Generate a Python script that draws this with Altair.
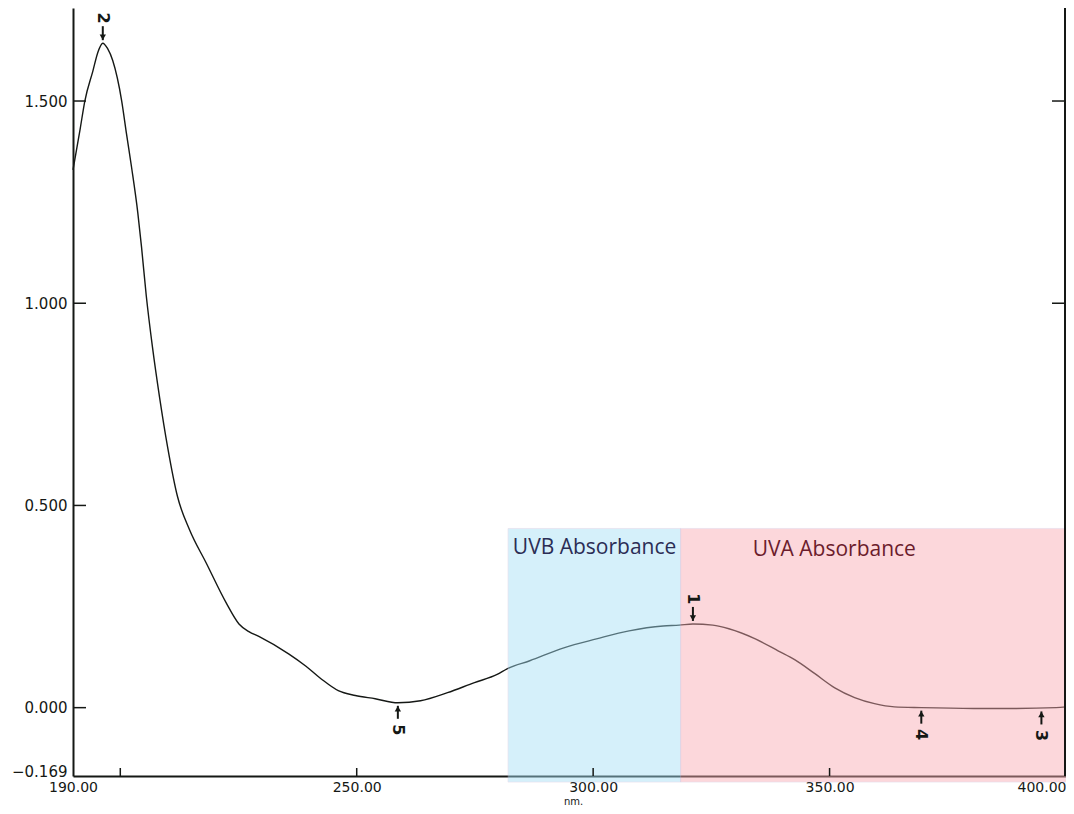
import altair as alt
import pandas as pd

# ---- data ----
wavelength = [190.0, 191.5, 192.5, 194.2, 195.3, 196.3, 197.3, 198.4, 200.3, 201.3, 202.4,
              203.7, 204.5, 205.5, 206.8, 208.3, 210.0, 212.1, 214.6, 218.2, 222.4,
              225.1, 227.2, 229.3, 235.6, 239.2, 242.5, 246.1, 249.7, 253.9, 258.7, 263.5,
              269.2, 274.9, 279.7, 281.8, 286.6, 293.8, 300.7, 307.6, 314.8, 318.2,
              321.1, 325.3, 328.7, 334.3, 339.2, 342.7, 346.9, 351.1, 355.3, 359.5,
              363.7, 369.4, 380.5, 388.9, 397.9, 400.0]
absorbance = [1.33, 1.43, 1.50, 1.574, 1.622, 1.643, 1.630, 1.600, 1.500, 1.420, 1.335,
              1.224, 1.138, 1.018, 0.892, 0.768, 0.645, 0.522, 0.441, 0.357, 0.259,
              0.207, 0.188, 0.176, 0.133, 0.103, 0.071, 0.042, 0.030, 0.022, 0.012, 0.017,
              0.037, 0.062, 0.082, 0.096, 0.116, 0.148, 0.170, 0.190, 0.202, 0.204,
              0.207, 0.204, 0.195, 0.170, 0.140, 0.118, 0.084, 0.049, 0.025, 0.010,
              0.002, 0.000, -0.002, -0.002, 0.000, 0.002]

peak_above_labels = ["2", "1"]
peak_above_nm = [196.3, 321.1]
peak_above_val = [1.643, 0.207]

peak_below_labels = ["5", "4", "3"]
peak_below_nm = [258.7, 369.4, 394.8]
peak_below_val = [0.012, 0.000, -0.002]

region_names = ["UVB Absorbance", "UVA Absorbance"]
region_start = [282.0, 318.5]
region_end = [318.5, 400.0]
region_top = [0.443, 0.443]
region_bottom = [-0.184, -0.184]
region_label_nm = [300.3, 351.0]
region_label_val = [0.394, 0.389]
region_fill = ["#a4e0f6", "#f9a8b0"]
region_text_color = ["#2b2d55", "#6b1c2c"]

x_label_values = [190, 250, 300, 350, 400]
x_tick_values = [200, 250, 300, 350]
y_label_values = [1.5, 1.0, 0.5, 0.0, -0.169]
y_tick_values = [1.5, 1.0, 0.5, 0.0]
y_right_tick_values = [1.5, 1.0]

W, H = 993, 768
X_DOMAIN = [190, 400]
Y_DOMAIN = [-0.169, 1.73]
INK = "#151815"
FONT = "DejaVu Sans"

curve = pd.DataFrame({"nm": wavelength, "abs": absorbance})
above = pd.DataFrame({"nm": peak_above_nm, "abs": peak_above_val, "lab": peak_above_labels})
below = pd.DataFrame({"nm": peak_below_nm, "abs": peak_below_val, "lab": peak_below_labels})
regions = pd.DataFrame({"name": region_names, "x1": region_start, "x2": region_end,
                        "y1": region_bottom, "y2": region_top,
                        "lx": region_label_nm, "ly": region_label_val})
yt = pd.DataFrame({"v": y_tick_values})
yrt = pd.DataFrame({"v": y_right_tick_values})
xt = pd.DataFrame({"v": x_tick_values})

xs = alt.Scale(domain=X_DOMAIN, nice=False, zero=False)
ys = alt.Scale(domain=Y_DOMAIN, nice=False, zero=False)

X_AXIS = alt.Axis(
    values=x_label_values, format=".2f", ticks=False, grid=False,
    domainColor=INK, domainWidth=2, labelFont=FONT, labelFontSize=14,
    labelColor=INK, labelPadding=4, labelFlush=False, labelOverlap=False,
    labelAlign={"condition": {"test": "datum.value >= 400", "value": "right"}, "value": "center"},
    title="nm.", titleFont=FONT, titleFontSize=10, titleFontWeight="normal",
    titleColor=INK, titlePadding=2, titleX=500)
Y_AXIS = alt.Axis(
    values=y_label_values, format=".3f", ticks=False, grid=False,
    domainColor=INK, domainWidth=2, labelFont=FONT, labelFontSize=15,
    labelColor=INK, labelPadding=6, labelOverlap=False, title=None,
    labelOffset={"condition": {"test": "datum.value < 0", "value": -5}, "value": 0})


def X(field):
    return alt.X(field, scale=xs, axis=X_AXIS)


def Y(field):
    return alt.Y(field, scale=ys, axis=Y_AXIS)


base_line = alt.Chart(curve).mark_line(color=INK, strokeWidth=1.4, interpolate="monotone").encode(
    x=X("nm:Q"), y=Y("abs:Q"))

rects = alt.Chart(regions).mark_rect(opacity=0.45, stroke="#c8b4d6", strokeWidth=1, strokeOpacity=0.6).encode(
    x=X("x1:Q"), x2="x2:Q", y=Y("y1:Q"), y2="y2:Q",
    fill=alt.Fill("name:N", scale=alt.Scale(domain=region_names, range=region_fill), legend=None),
)

region_text = alt.Chart(regions).mark_text(font="Open Sans", fontSize=21).encode(
    x=X("lx:Q"), y=Y("ly:Q"), text="name:N",
    color=alt.Color("name:N", scale=alt.Scale(domain=region_names, range=region_text_color), legend=None),
)

a_rule = alt.Chart(above).mark_rule(color=INK, strokeWidth=2, yOffset=-17, y2Offset=-3).encode(
    x=X("nm:Q"), y=Y("abs:Q"), y2="abs:Q")
a_head = alt.Chart(above).mark_point(shape="triangle-down", filled=True, color=INK, size=40, opacity=1, yOffset=-6).encode(
    x=X("nm:Q"), y=Y("abs:Q"))
a_text = alt.Chart(above).mark_text(angle=90, font=FONT, fontSize=16, fontWeight="bold", color=INK, yOffset=-25).encode(
    x=X("nm:Q"), y=Y("abs:Q"), text="lab:N")

b_rule = alt.Chart(below).mark_rule(color=INK, strokeWidth=2, yOffset=3, y2Offset=16).encode(
    x=X("nm:Q"), y=Y("abs:Q"), y2="abs:Q")
b_head = alt.Chart(below).mark_point(shape="triangle-up", filled=True, color=INK, size=40, opacity=1, yOffset=6).encode(
    x=X("nm:Q"), y=Y("abs:Q"))
b_text = alt.Chart(below).mark_text(angle=90, font=FONT, fontSize=16, fontWeight="bold", color=INK, yOffset=27).encode(
    x=X("nm:Q"), y=Y("abs:Q"), text="lab:N")

left_ticks = alt.Chart(yt).mark_rule(color=INK, strokeWidth=1.5).encode(
    y=Y("v:Q"), x=alt.value(0), x2=alt.value(13))
right_ticks = alt.Chart(yrt).mark_rule(color=INK, strokeWidth=1.5).encode(
    y=Y("v:Q"), x=alt.value(W - 14), x2=alt.value(W))
bottom_ticks = alt.Chart(xt).mark_rule(color=INK, strokeWidth=1.5).encode(
    x=X("v:Q"), y=alt.value(H), y2=alt.value(H - 8))
right_border = alt.Chart(yrt).mark_rule(color=INK, strokeWidth=2).encode(
    x=alt.value(W - 1), y=alt.value(0), y2=alt.value(H))

chart = alt.layer(
    base_line, rects, region_text,
    a_rule, a_head, a_text, b_rule, b_head, b_text,
    left_ticks, right_ticks, bottom_ticks, right_border,
).properties(
    width=W, height=H,
    autosize=alt.AutoSizeParams(type="none"),
    padding={"left": 65, "top": 0, "right": 0, "bottom": 30},
    background="white",
).configure_view(stroke=None)

chart.save("out.html", embed_options={"renderer": "svg", "actions": False})
